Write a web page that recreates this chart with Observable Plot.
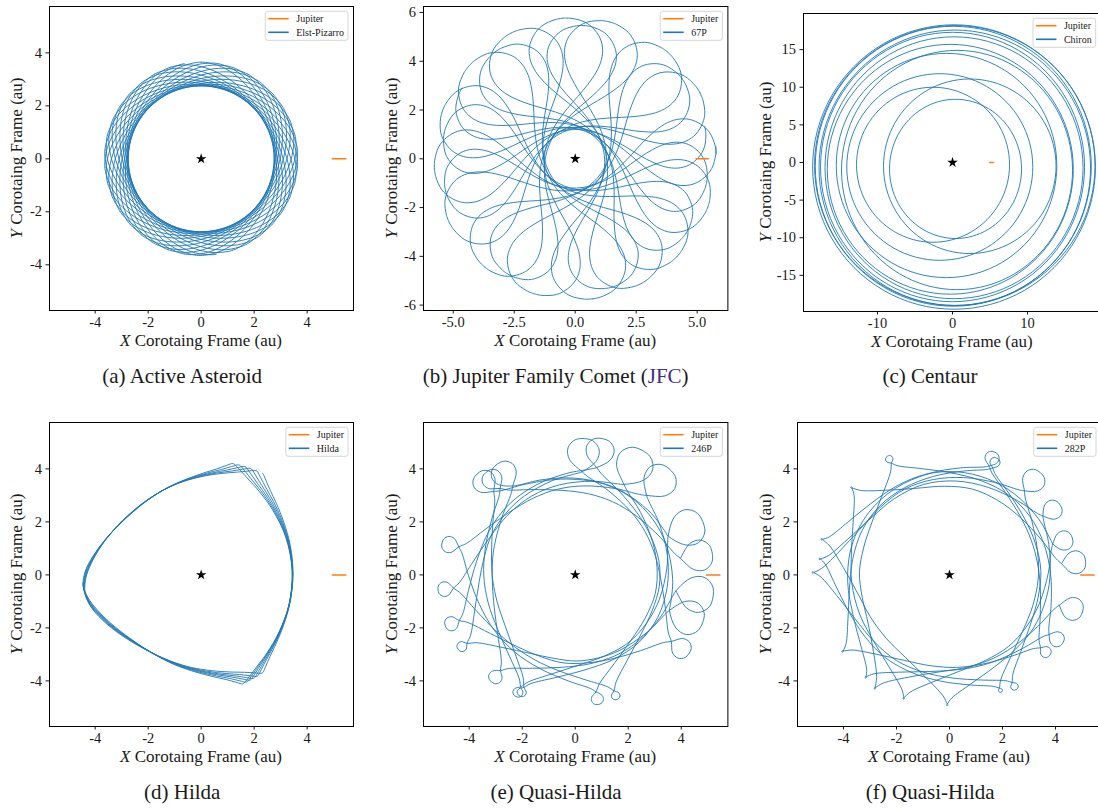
<!DOCTYPE html>
<html><head><meta charset="utf-8">
<script src="https://cdn.jsdelivr.net/npm/d3@7"></script>
<script src="https://cdn.jsdelivr.net/npm/@observablehq/plot@0.6"></script>
<style>
html,body{margin:0;padding:0;background:#fff;overflow:hidden;}
#fig{position:relative;width:1098px;height:811px;overflow:hidden;background:#fff;}
.pane{position:absolute;}
#fig svg, #fig svg text, #fig svg tspan{font-family:"Liberation Serif","DejaVu Serif",serif !important;}
</style></head><body><div id="fig"></div>
<script>
// ================= DATA =================
const jupiterX = [4.95, 5.2, 5.46];
const jupiterY = [0, 0, 0];
const sunX = [0];
const sunY = [0];

// (a) Elst-Pizarro: one revolution, angle from its starting aphelion (deg) and distance (au)
const elstRelAngle = [0, 2.7, 12.5, 23.9, 37.6, 54.3, 73.7, 94.7, 115.7, 135.1, 151.8, 165.5, 176.9, 186.7, 189.4];
const elstRadius   = [3.648, 3.643, 3.559, 3.386, 3.168, 2.958, 2.807, 2.752, 2.807, 2.958, 3.168, 3.386, 3.559, 3.643, 3.648];
const elstAphelion = [100, 289, 119, 308, 138, 327, 156, 346, 175, 5, 194, 23, 213, 42, 232, 61, 250, 80, 269,
                      109, 298, 128, 317, 147, 336, 166, 355, 185, 14, 204, 33, 223, 52, 241, 71, 260, 90, 279];

// (b) 67P: one revolution (aphelion -> perihelion -> aphelion)
const cometRelAngle = [0, -3.4, -9.5, -14.2, -18.1, -20.3, -20.3, -17.6, -11.9, -2.2, 11.8, 31.0, 55.0, 82.1, 109.2, 133.2, 152.4, 166.4, 176.1, 181.8, 184.5, 184.5, 182.3, 178.4, 173.7, 167.6, 164.2];
const cometRadius   = [5.674, 5.652, 5.507, 5.234, 4.851, 4.381, 3.855, 3.303, 2.762, 2.263, 1.840, 1.517, 1.314, 1.246, 1.314, 1.517, 1.840, 2.263, 2.762, 3.303, 3.855, 4.381, 4.851, 5.234, 5.507, 5.652, 5.674];
const cometAphelionA = [5, 160, 316, 117, 277, 76, 230, 28, 184, 340, 139, 298, 95, 253, 49, 207, 2];
const cometAphelionB = [14, 169, 326, 127, 286, 86, 240, 37, 194, 350, 148];
const cometScale = [1.02, 0.965];

// (c) Chiron: loops (centre and radii, au)
const chironCx = [0.4, -2.6, 2.3, -1.7, -0.8, 0.6, -0.3, 0.2, 0.0, 0.3, 0.1, 0.3, 0.2];
const chironCy = [-0.85, -0.3, -0.5, -0.6, -0.4, -1.0, -0.9, -0.7, -0.6, -0.7, -0.5, -0.4, -0.6];
const chironRx = [8.8, 10.2, 11.5, 12.4, 14.7, 15.4, 16.4, 17.2, 17.6, 18.1, 18.4, 18.7, 18.85];
const chironRy = [9.25, 10.3, 11.6, 12.4, 14.9, 15.9, 16.6, 17.4, 17.9, 18.3, 18.6, 18.6, 18.9];

// (d) Hilda: one side of the triangle (corner -> corner), sharp and rounded corner profiles, corners visited
const hildaRelAngle    = [0, 0.8, 3.5, 8.5, 16, 27, 42, 60, 78, 93, 104, 111.5, 116.5, 119.2, 120];
const hildaRadius      = [4.45, 4.43, 4.30, 4.10, 3.90, 3.70, 3.55, 3.49, 3.55, 3.70, 3.90, 4.10, 4.30, 4.43, 4.45];
const hildaRadiusRound = [4.45, 4.445, 4.42, 4.33, 4.13, 3.86, 3.60, 3.49, 3.60, 3.86, 4.13, 4.33, 4.42, 4.445, 4.45];
const hildaCornerAngle = [184, 291, 74, 185, 293, 71, 186, 295, 68, 187, 297, 65, 188, 299, 62, 189, 302, 59];
const hildaCornerR     = [4.48, 4.40, 4.37, 4.48, 4.39, 4.39, 4.47, 4.38, 4.41, 4.46, 4.38, 4.43, 4.45, 4.37, 4.45, 4.44, 4.36, 4.48];
const hildaCornerRound = [1, 0, 0, 1, 0, 0, 1, 0, 0, 1, 0, 0, 1, 0, 0, 1, 0, 0];

// Quasi-Hilda loop shape: loop points around the loop centre (multiples of loop size)
const loopTk = [0.85, 0.9, 0.45, -0.45, -0.9, -0.85];
const loopNk = [-0.25, 0.45, 0.95, 0.95, 0.45, -0.25];
// legs from the loop crossing down to the perihelion arc
const legT    = [0.17, 1.0, 2.3];
const legTk   = [0.1, 0.3, 0.4];
const legDrop = [0.2, 0.6, 0.9];

// (e) 246P: aphelion loops in time order (angle deg, loop centre au, loop size au) and perihelia between them
const qhAAngle  = [8.9, 131, 244, 22.7, 134.3, 245.5, 48.1, 166.5, 280.1, 61.7, 186.2, 288.5, 78.7, 201.5, 325.3, 86.2, 212.3, 339.4, 125.1, 232, 351];
const qhARadius = [4.62, 4.72, 4.9, 4.5, 4.85, 4.84, 4.68, 4.84, 4.72, 4.6, 4.91, 4.78, 4.68, 4.98, 4.81, 4.52, 5.03, 4.46, 4.6, 4.85, 4.55];
const qhASize   = [0.6, 0.4, 0.2, 0.7, 0.45, 0.18, 0.65, 0.32, 0.24, 0.72, 0.29, 0.17, 0.55, 0.28, 0.4, 0.62, 0.2, 0.66, 0.5, 0.27, 0.7];
const qhAPeri   = [3.1, 3.45, 3.25, 3.6, 3.12, 3.5, 3.3, 3.7, 3.1, 3.4, 3.55, 3.2, 3.65, 3.35, 3.1, 3.5, 3.25, 3.6, 3.15, 3.4];

// (f) 282P: aphelion loops / cusps in time order and perihelia between them
const qhBAngle  = [5.7, 138.3, 249.6, 16.7, 164.4, 269, 32.2, 173, 293.8, 48.3, 179, 300.2, 68, 215.6, 321.3, 70, 230.7, 329.1, 117.5, 236.6, 344.6];
const qhBRadius = [4.7, 4.95, 4.97, 4.45, 5.0, 4.9, 4.55, 4.93, 4.75, 4.7, 5.15, 4.85, 4.55, 4.96, 4.62, 4.65, 4.99, 4.68, 4.9, 5.12, 4.75];
const qhBSize   = [0.45, 0.03, 0.03, 0.38, 0.03, 0.03, 0.38, 0.03, 0.08, 0.45, 0.03, 0.15, 0.2, 0.03, 0.22, 0.28, 0.03, 0.3, 0.15, 0.03, 0.45];
const qhBPeri   = [3.35, 3.7, 3.5, 3.9, 3.38, 3.75, 3.55, 3.95, 3.35, 3.65, 3.8, 3.45, 3.7, 3.5, 3.35, 3.85, 3.6, 3.75, 3.4, 3.55];

// ================= BUILD TABLES =================
const rad = Math.PI / 180;
const gapDeg = (a, b) => ((b - a) % 360 + 360) % 360;
const toXY = (th, r, id) => ({x: r * Math.cos(th * rad), y: r * Math.sin(th * rad), id});

function templateOrbit(aph, rel, radius, span, scale, tag) {
  const rows = [];
  for (let k = 0; k + 1 < aph.length; k++) {
    const s = gapDeg(aph[k], aph[k + 1]) / span;
    rel.forEach((a, j) => rows.push(toXY(aph[k] + a * s, radius[j] * scale, tag + k)));
  }
  return rows;
}
function hildaRows() {
  const rows = [];
  for (let k = 0; k + 1 < hildaCornerAngle.length; k++) {
    const s = gapDeg(hildaCornerAngle[k], hildaCornerAngle[k + 1]) / 120;
    hildaRelAngle.forEach((a, j) => {
      if (k > 0 && j === 0) return;
      const f = a / 120;
      const w = j < 7 ? hildaCornerRound[k] : j > 7 ? hildaCornerRound[k + 1] : 0;
      const base = (1 - w) * hildaRadius[j] + w * hildaRadiusRound[j];
      const R = ((1 - f) * hildaCornerR[k] + f * hildaCornerR[k + 1]) / 4.45;
      rows.push(toXY(hildaCornerAngle[k] + a * s, base * R, 0));
    });
  }
  return rows;
}
function circleRows() {
  const rows = [];
  chironCx.forEach((cx, i) => {
    for (let j = 0; j < 96; j++) {
      const t = j / 96 * 2 * Math.PI;
      rows.push({x: cx + chironRx[i] * Math.cos(t), y: chironCy[i] + chironRy[i] * Math.sin(t), id: i});
    }
  });
  return rows;
}
function loopChain(ang, R, size, peri) {
  const rows = [];
  const n = ang.length;
  const legAngle = (k, j) => ((legT[j] + legTk[j] * size[k]) / (R[k] - size[k])) / rad;
  for (let k = 0; k < n; k++) {
    const a = ang[k], Rk = R[k], p = size[k], Rc = Rk - p;
    if (k > 0) { // incoming leg
      const D = Rc - peri[k - 1];
      for (let j = 2; j >= 0; j--) rows.push(toXY(a - legAngle(k, j), Rc - legDrop[j] * D, 0));
    }
    rows.push(toXY(a, Rc, 0));
    loopTk.forEach((tk, j) => rows.push(toXY(a + (tk * p / Rk) / rad, Rk + loopNk[j] * p, 0)));
    rows.push(toXY(a, Rc, 0));
    if (k + 1 < n) { // outgoing leg and perihelion arc
      const D = Rc - peri[k];
      for (let j = 0; j < 3; j++) rows.push(toXY(a + legAngle(k, j), Rc - legDrop[j] * D, 0));
      const th0 = a + legAngle(k, 2), th1 = a + gapDeg(a, ang[k + 1]) - legAngle(k + 1, 2);
      const m = Math.max(1, Math.round((th1 - th0) / 24));
      for (let i = 1; i <= m; i++) rows.push(toXY(th0 + (th1 - th0) * i / (m + 1), peri[k], 0));
    }
  }
  return rows;
}
const jupiterRows = jupiterX.map((x, i) => ({x, y: jupiterY[i]}));
const sunRows = sunX.map((x, i) => ({x, y: sunY[i]}));

const intFmt = d => String(d);
const panels = [
  {fl: 49.3, ft: 6, fw: 304, fh: 304, xdom: [-5.725, 5.75], ydom: [-5.725, 5.75], xt: [-4, -2, 0, 2, 4], yt: [-4, -2, 0, 2, 4], xf: intFmt, yf: intFmt,
   name: "Elst-Pizarro", ylab: 16.7, capX: 182.5, capY: 383.3, cap: [["(a) Active Asteroid"]],
   rows: templateOrbit(elstAphelion, elstRelAngle, elstRadius, 189.4, 1, 0), curve: "catmull-rom"},
  {fl: 423.3, ft: 6, fw: 304.4, fh: 304, xdom: [-6.22, 6.26], ydom: [-6.22, 6.245], xt: [-5, -2.5, 0, 2.5, 5], yt: [-6, -4, -2, 0, 2, 4, 6], xf: d => d.toFixed(1), yf: intFmt,
   name: "67P", ylab: 392, capX: 556, capY: 383.3, cap: [["(b) Jupiter Family Comet ("], ["JFC", "#3a2f8a"], [")"]],
   rows: templateOrbit(cometAphelionA, cometRelAngle, cometRadius, 164.2, cometScale[0], 0)
           .concat(templateOrbit(cometAphelionB, cometRelAngle, cometRadius, 164.2, cometScale[1], 100)), curve: "catmull-rom"},
  {fl: 803.3, ft: 13.3, fw: 297.7, fh: 298, xdom: [-19.87, 19.82], ydom: [-19.8, 19.8], xt: [-10, 0, 10], yt: [-15, -10, -5, 0, 5, 10, 15], xf: intFmt, yf: intFmt,
   name: "Chiron", ylab: 765.3, capX: 930.3, capY: 383.3, cap: [["(c) Centaur"]], rows: circleRows(), curve: "linear-closed"},
  {fl: 49.3, ft: 422.3, fw: 304, fh: 304, xdom: [-5.725, 5.75], ydom: [-5.72, 5.75], xt: [-4, -2, 0, 2, 4], yt: [-4, -2, 0, 2, 4], xf: intFmt, yf: intFmt,
   name: "Hilda", ylab: 16.7, capX: 182.5, capY: 799, cap: [["(d) Hilda"]], rows: hildaRows(), curve: "catmull-rom"},
  {fl: 423.3, ft: 422.3, fw: 304.4, fh: 304, xdom: [-5.725, 5.76], ydom: [-5.72, 5.75], xt: [-4, -2, 0, 2, 4], yt: [-4, -2, 0, 2, 4], xf: intFmt, yf: intFmt,
   name: "246P", ylab: 392, capX: 556.3, capY: 799, cap: [["(e) Quasi-Hilda"]], rows: loopChain(qhAAngle, qhARadius, qhASize, qhAPeri), curve: "catmull-rom"},
  {fl: 797.3, ft: 422.3, fw: 304, fh: 304, xdom: [-5.736, 5.736], ydom: [-5.72, 5.75], xt: [-4, -2, 0, 2, 4], yt: [-4, -2, 0, 2, 4], xf: intFmt, yf: intFmt,
   name: "282P", ylab: 765.3, capX: 930.5, capY: 799, cap: [["(f) Quasi-Hilda"]], rows: loopChain(qhBAngle, qhBRadius, qhBSize, qhBPeri), curve: "catmull-rom"}
];

const fig = document.getElementById("fig");
const INK = "#1a1a1a";
const FONT = "'Liberation Serif', 'DejaVu Serif', serif";
panels.forEach(p => {
  const svgLeft = p.fl - 50, svgTop = p.ft - 10;
  const W = 50 + p.fw + 12, H = 10 + p.fh + 85;
  const chart = Plot.plot({
    width: W, height: H,
    marginLeft: 50, marginRight: 12, marginTop: 10, marginBottom: 85,
    style: {background: "transparent", fontFamily: FONT, fontSize: "14.5px", color: INK, overflow: "visible"},
    x: {domain: p.xdom, ticks: p.xt, tickFormat: p.xf, tickSize: 3.5, tickPadding: 3, label: null},
    y: {domain: p.ydom, ticks: p.yt, tickFormat: p.yf, tickSize: 3.5, tickPadding: 4, label: null},
    marks: [
      Plot.line(p.rows, {x: "x", y: "y", z: "id", curve: p.curve, stroke: "#1f77b4", strokeWidth: 0.9}),
      Plot.line(jupiterRows, {x: "x", y: "y", stroke: "#ff7f0e", strokeWidth: 1.5}),
      Plot.dot(sunRows, {x: "x", y: "y", symbol: "star", fill: "black", stroke: "none", r: 3.3}),
      Plot.frame({stroke: "black", strokeWidth: 1})
    ]
  });
  chart.setAttribute("font-family", FONT);
  const div = document.createElement("div");
  div.className = "pane";
  div.style.left = svgLeft + "px";
  div.style.top = svgTop + "px";
  div.style.width = W + "px";
  div.style.height = H + "px";
  div.appendChild(chart);
  fig.appendChild(div);

  const s = d3.select(chart);
  const xl = s.append("text").attr("x", 50 + p.fw / 2).attr("y", 10 + p.fh + 36)
    .attr("text-anchor", "middle").attr("font-size", 17).attr("fill", INK);
  xl.append("tspan").attr("font-style", "italic").text("X");
  xl.append("tspan").text(" Corotaing Frame (au)");
  const yl = s.append("text").attr("transform", `translate(${p.ylab - svgLeft},${10 + p.fh / 2}) rotate(-90)`)
    .attr("dy", "0.33em").attr("text-anchor", "middle").attr("font-size", 17).attr("fill", INK);
  yl.append("tspan").attr("font-style", "italic").text("Y");
  yl.append("tspan").text(" Corotaing Frame (au)");
  const cp = s.append("text").attr("x", p.capX - svgLeft).attr("y", p.capY - svgTop)
    .attr("text-anchor", "middle").attr("font-size", 21).attr("fill", INK);
  p.cap.forEach(([t, c]) => cp.append("tspan").attr("fill", c || INK).text(t));
  // legend
  const g = s.append("g").attr("text-anchor", "start");
  const items = [["Jupiter", "#ff7f0e"], [p.name, "#1f77b4"]];
  const texts = items.map(([t]) => g.append("text").attr("text-anchor", "start").attr("font-size", 10).attr("fill", INK).text(t));
  const tw = d3.max(texts, t => t.node().getComputedTextLength());
  const bw = 31 + tw + 4, x0 = 50 + p.fw - 5 - bw, y0 = 10 + 5.3;
  g.insert("rect", ":first-child").attr("x", x0).attr("y", y0).attr("width", bw).attr("height", 29)
    .attr("rx", 2.5).attr("fill", "white").attr("fill-opacity", 0.85).attr("stroke", "#cccccc").attr("stroke-width", 0.8);
  items.forEach(([t, c], i) => {
    const yy = y0 + 7.4 + i * 13.6;
    g.append("line").attr("x1", x0 + 3).attr("x2", x0 + 23.5).attr("y1", yy).attr("y2", yy).attr("stroke", c).attr("stroke-width", 1.6);
    texts[i].attr("x", x0 + 31).attr("y", yy + 3.4);
  });
});
</script></body></html>
